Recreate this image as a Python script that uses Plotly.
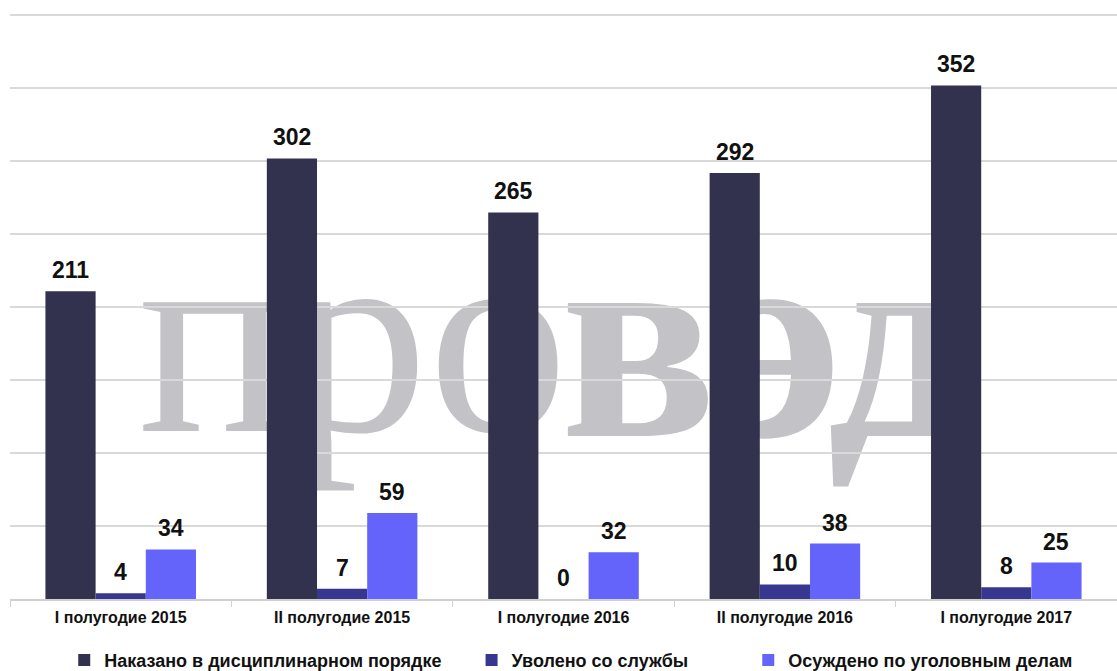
import plotly.graph_objects as go

categories = ["I полугодие 2015", "II полугодие 2015", "I полугодие 2016", "II полугодие 2016", "I полугодие 2017"]
series_names = ["Наказано в дисциплинарном порядке", "Уволено со службы", "Осуждено по уголовным делам"]
punished = [211, 302, 265, 292, 352]
dismissed = [4, 7, 0, 10, 8]
convicted = [34, 59, 32, 38, 25]
colors = ["#32324e", "#373790", "#6464fa"]
watermark_parts = ["про", "вэд"]

FONT = "Liberation Sans, Arial, sans-serif"
BAR_PX = 50  # approximate pixel width of one bar, for label offsets
PAD = ["\u00a0" * 5, "\u00a0" * 11, ""]

fig = go.Figure()
all_vals = [punished, dismissed, convicted]
for i, (name, vals, col) in enumerate(zip(series_names, all_vals, colors)):
    fig.add_trace(go.Bar(
        x=categories, y=vals, name="<b>" + name + "</b>" + PAD[i], marker_color=col, marker_line_width=0,
    ))
    for c, v in zip(categories, vals):
        fig.add_annotation(x=c, y=v, xref="x", yref="y", text=f"<b>{v}</b>", showarrow=False,
                           yanchor="bottom", yshift=6, xshift=(i - 1) * BAR_PX,
                           font=dict(family=FONT, size=23, color="#111111"))

# watermark (two parts: light and bold)
for txt, cx, wt, sz in zip(watermark_parts, [0.310, 0.684], ["normal", "bold"], [280, 290]):
    fig.add_shape(type="rect", xref="paper", yref="paper", x0=cx - 0.18, x1=cx + 0.18, y0=0.325, y1=0.675,
                  line_width=0, fillcolor="rgba(0,0,0,0)", layer="below",
                  label=dict(text=txt, font=dict(family="Liberation Serif", size=sz, color="#c2c2c7", weight=wt),
                             textposition="middle center"))

fig.update_layout(
    width=1117, height=671,
    margin=dict(l=10, r=0, t=14, b=72),
    paper_bgcolor="white", plot_bgcolor="white",
    barmode="group", bargap=0.32, bargroupgap=0,
    font=dict(family=FONT, color="#111111"),
    showlegend=True,
    legend=dict(orientation="h", x=0.049, xanchor="left", yref="container", y=0.016, yanchor="middle",
                font=dict(family=FONT, size=18, color="#111111"), itemclick=False),
    xaxis=dict(showgrid=False, showline=True, linecolor="#d0d0d0", linewidth=1.5, automargin=False,
               ticks="outside", tickson="boundaries", ticklen=6, tickcolor="#d0d0d0", ticklabelstandoff=3,
               tickfont=dict(family=FONT, size=16, color="#111111"), tickprefix="<b>", ticksuffix="</b>"),
    yaxis=dict(range=[0, 401], dtick=50, showgrid=True, gridcolor="#d9d9d9", gridwidth=1.5, automargin=False,
               showticklabels=False, zeroline=False, showline=False),
)

fig.write_html("out.html", config={"displayModeBar": False},
               post_script="document.body.style.margin='0';document.body.style.overflow='hidden';")
